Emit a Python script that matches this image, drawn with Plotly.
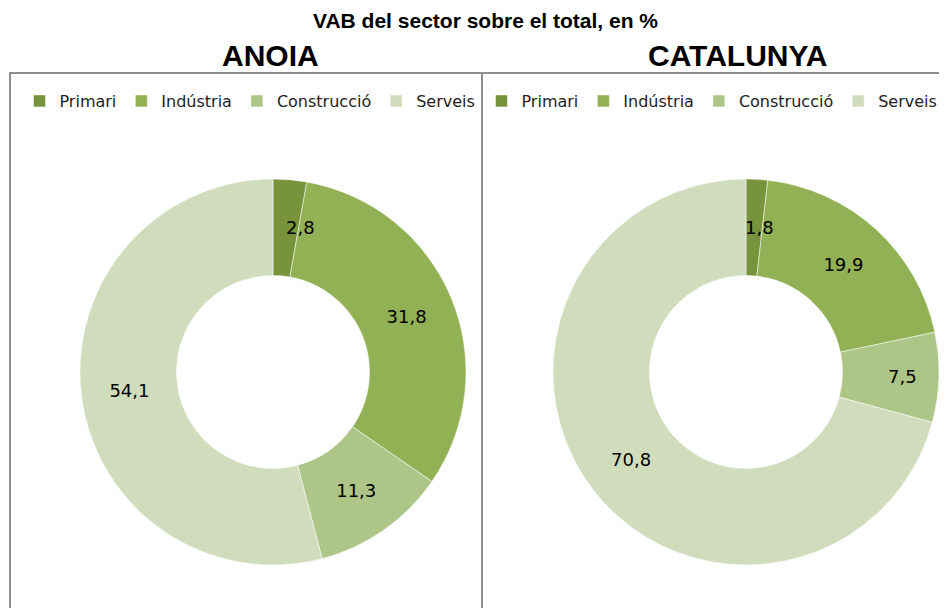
import math
import plotly.graph_objects as go

# the page puts the figure 8px in from the top left corner
W, H = 939, 600
OFF = 8

sectors = ['Primari', 'Indústria', 'Construcció', 'Serveis']
colors = ['#77933C', '#92B054', '#ADC687', '#D0DCBC']

anoia = [2.8, 31.8, 11.3, 54.1]
catalunya = [1.8, 19.9, 7.5, 70.8]


def fmt(v):
    return f'{v:.1f}'.replace('.', ',')


def px(x):
    return (x - OFF) / W


def py(y):
    return 1 - (y - OFF) / H


R = 193        # outer radius in px
HOLE = 0.5
CY = 372
centres = {'anoia': 273, 'catalunya': 746}
nudge = {'anoia': 15, 'catalunya': 5}   # Excel pushes small labels a bit right

fig = go.Figure()
annotations = []

for name, vals, leg in [('anoia', anoia, 'legend'), ('catalunya', catalunya, 'legend2')]:
    cx = centres[name]
    total = sum(vals)
    # thin slices get their label placed at the middle of the ring, like Excel does
    thin = [v / total < 0.05 for v in vals]
    fig.add_trace(go.Pie(
        labels=sectors, values=vals, text=[fmt(v) for v in vals],
        textinfo='text', textposition=['none' if t else 'inside' for t in thin],
        insidetextorientation='horizontal',
        hole=HOLE, sort=False, direction='clockwise', rotation=0,
        marker=dict(colors=colors, line=dict(color='white', width=0.5)),
        textfont=dict(family='DejaVu Sans', size=18, color='black'),
        domain=dict(x=[px(cx - R), px(cx + R)], y=[py(CY + R), py(CY - R)]),
        legend=leg, legendgroup=name, hoverinfo='label+text',
    ))
    cum = 0
    rm = R * (1 + HOLE) / 2
    for v, t in zip(vals, thin):
        mid = (cum + v / 2) / total * 2 * math.pi
        cum += v
        if t:
            annotations.append(dict(
                text=fmt(v), x=px(cx + rm * math.sin(mid) + nudge[name]),
                y=py(CY - rm * math.cos(mid)),
                xref='paper', yref='paper', showarrow=False, xanchor='center', yanchor='middle',
                font=dict(family='DejaVu Sans', size=18, color='black')))

# boxes round each chart
box = dict(type='rect', xref='paper', yref='paper', line=dict(color='#8E8E8E', width=2),
           fillcolor='rgba(0,0,0,0)', layer='below')
fig.add_shape(x0=px(10), x1=px(482), y0=py(640), y1=py(73), **box)
fig.add_shape(x0=px(482), x1=px(990), y0=py(640), y1=py(73), **box)

leg = dict(orientation='h', xanchor='center', yanchor='middle', bgcolor='rgba(0,0,0,0)',
           font=dict(family='DejaVu Sans', size=16, color='#222222'), itemwidth=30,
           traceorder='normal')

annotations += [
    dict(text='<b>VAB del sector sobre el total, en %</b>', x=px(485), y=py(20),
         xref='paper', yref='paper', showarrow=False, xanchor='center', yanchor='middle',
         font=dict(family='Liberation Sans', size=21, color='black')),
    dict(text='<b>ANOIA</b>', x=px(270), y=py(56),
         xref='paper', yref='paper', showarrow=False, xanchor='center', yanchor='middle',
         font=dict(family='Liberation Sans', size=30, color='black')),
    dict(text='<b>CATALUNYA</b>', x=px(737), y=py(56),
         xref='paper', yref='paper', showarrow=False, xanchor='center', yanchor='middle',
         font=dict(family='Liberation Sans', size=30, color='black')),
]

fig.update_layout(
    width=W, height=H,
    margin=dict(l=0, r=0, t=0, b=0),
    paper_bgcolor='white', plot_bgcolor='white',
    showlegend=True,
    legend=dict(x=px(250), y=py(101), **leg),
    legend2=dict(x=px(712), y=py(101), **leg),
    uniformtext=dict(minsize=18, mode='show'),
    annotations=annotations,
)

fig.write_html('out.html')
